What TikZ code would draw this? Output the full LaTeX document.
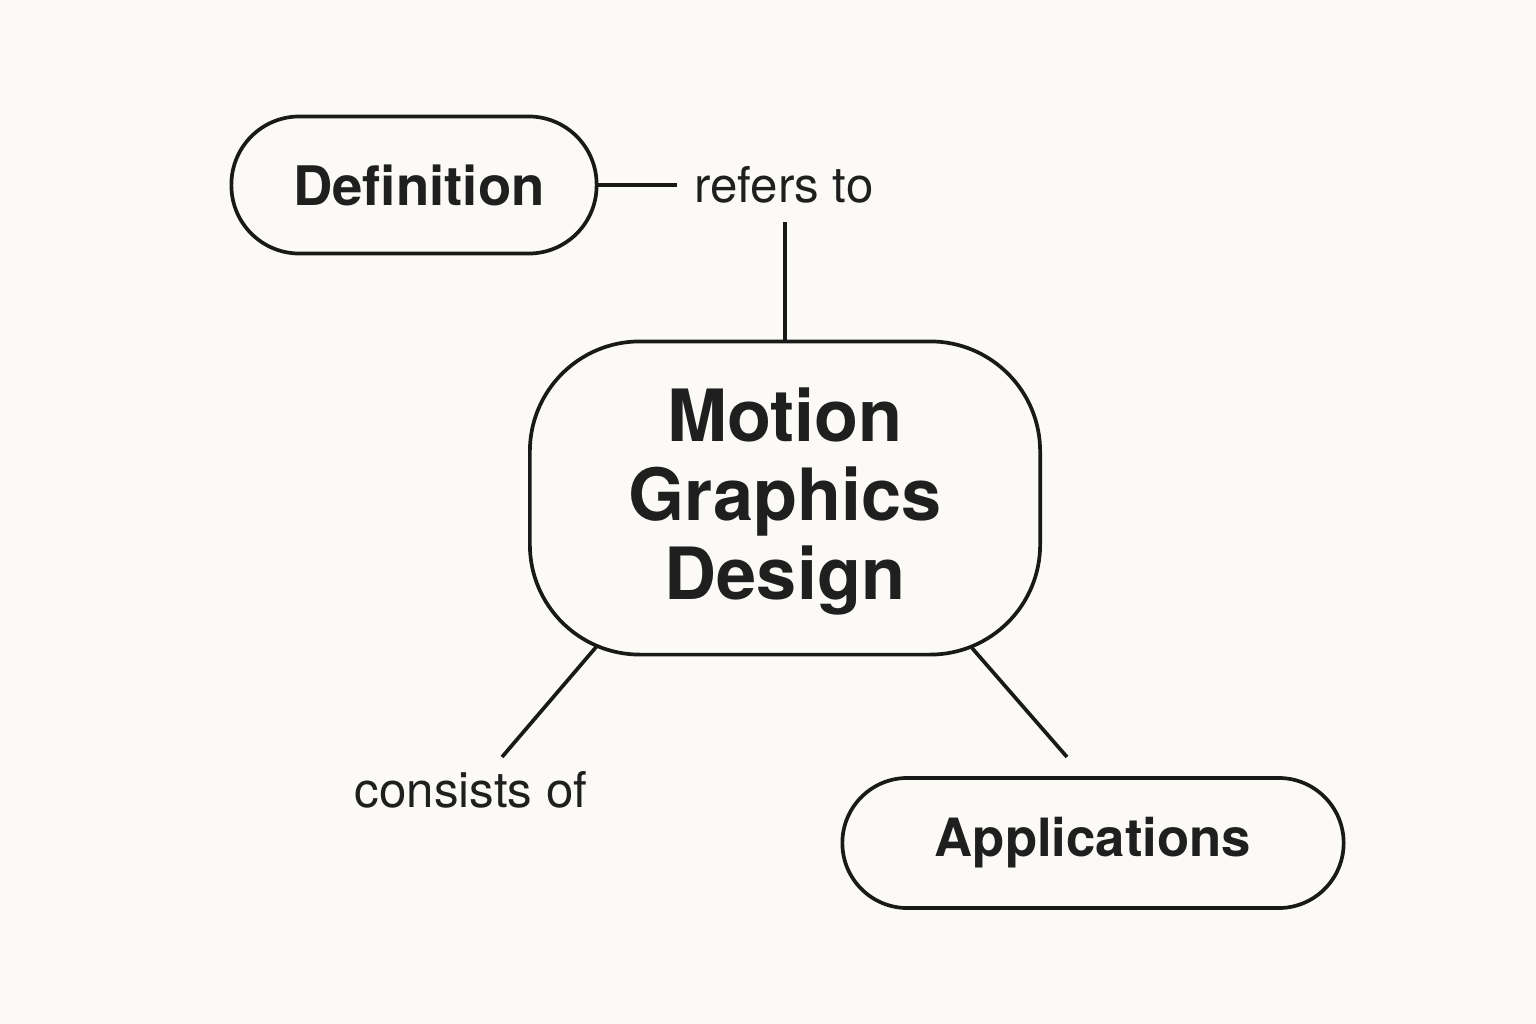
\documentclass[tikz,border=0pt]{standalone}
\usepackage{fontspec}
\setmainfont{TeX Gyre Heros}
\begin{document}
\begin{tikzpicture}[x=0.01cm,y=-0.01cm,
  box/.style={draw=black!90,line width=1.05pt,inner sep=0pt,font=\bfseries,text=black!88},
  lbl/.style={inner sep=0pt,font=\fontsize{14}{17}\selectfont,text=black!88},
  conn/.style={draw=black!90,line width=1.05pt}]
\fill[fill={rgb,255:red,251;green,250;blue,246}] (0,0) rectangle (1536,1024);
\useasboundingbox (0,0) rectangle (1536,1024);
\node[box,rounded corners=0.68cm,minimum width=3.65cm,minimum height=1.37cm,font=\bfseries\fontsize{15.5}{19}\selectfont] (def) at (414,185) {\hspace{0.1cm}Definition};
\node[lbl] (ref) at (784,185) {refers to};
\node[box,rounded corners=1.1cm,minimum width=5.1cm,minimum height=3.13cm,align=center,font=\bfseries\fontsize{20.5}{22.5}\selectfont] (main) at (785,498) {\\[-0.18cm]Motion\\Graphics\\Design};
\node[lbl] (con) at (471,790) {consists of};
\node[box,rounded corners=0.65cm,minimum width=5.01cm,minimum height=1.30cm,font=\bfseries\fontsize{15}{18}\selectfont] (app) at (1093,843) {Applications};
\coordinate (r1) at (677,185);
\coordinate (r2) at (785,222);
\coordinate (c1) at (597,646);
\coordinate (c2) at (502,757);
\coordinate (a1) at (972,648);
\coordinate (a2) at (1067,757);
\draw[conn] (def.east) -- (r1);
\draw[conn] (r2) -- (main.north);
\draw[conn] (c1) -- (c2);
\draw[conn] (a1) -- (a2);
\end{tikzpicture}
\end{document}
